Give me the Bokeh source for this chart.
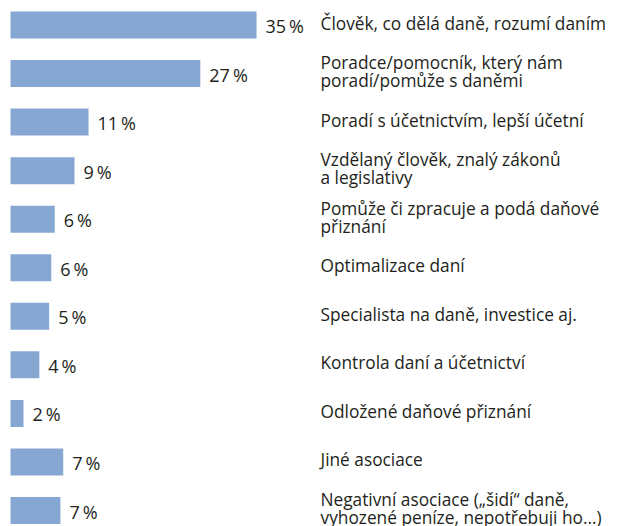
from bokeh.plotting import figure
from bokeh.models import ColumnDataSource, Range1d
from bokeh.core.properties import value
from bokeh.embed import file_html
from bokeh.resources import INLINE

categories = [
    "Člověk, co dělá daně, rozumí daním",
    "Poradce/pomocník, který nám\nporadí/pomůže s daněmi",
    "Poradí s účetnictvím, lepší účetní",
    "Vzdělaný člověk, znalý zákonů\na legislativy",
    "Pomůže či zpracuje a podá daňové\npřiznání",
    "Optimalizace daní",
    "Specialista na daně, investice aj.",
    "Kontrola daní a účetnictví",
    "Odložené daňové přiznání",
    "Jiné asociace",
    "Negativní asociace („šidí“ daně,\nvyhozené peníze, nepotřebuji ho...)",
]
values = [35.0, 27.0, 11.1, 9.1, 6.3, 5.8, 5.5, 4.1, 1.85, 7.5, 7.1]
labels = ["35\u2009%", "27\u2009%", "11\u2009%", "9\u2009%", "6\u2009%", "6\u2009%",
          "5\u2009%", "4\u2009%", "2\u2009%", "7\u2009%", "7\u2009%"]

rows = list(range(len(categories)))
src = ColumnDataSource(dict(y=rows, v=values, lab=labels, cat=categories,
                            zero=[0] * len(rows)))

W, H = 617, 526
px_per_pct = 7.03
row_px = 48.55
x0 = -10 / px_per_pct
y_top = -24.5 / row_px

p = figure(width=W, height=H, output_backend="svg", toolbar_location=None,
           x_range=Range1d(x0, x0 + W / px_per_pct),
           y_range=Range1d(y_top + H / row_px, y_top),
           min_border=0, outline_line_color=None)
p.axis.visible = False
p.grid.visible = False
p.background_fill_color = "white"
p.border_fill_color = "white"

p.hbar(y="y", left="zero", right="v", height=27 / row_px, source=src,
       fill_color="#87a7d3", line_color=None)

font = value("Open Sans")
p.text(x="v", y="y", text="lab", source=src, x_offset=9, y_offset=1,
       text_font=font, text_font_size="18px", text_color="#231f20",
       text_baseline="middle", text_align="left")

label_x = (320 - 10) / px_per_pct
p.text(x=label_x, y="y", text="cat", source=src, y_offset=-2,
       text_font=font, text_font_size="17.3px", text_color="#231f20",
       text_baseline="middle", text_align="left", text_line_height=0.77)

open("out.html", "w").write(file_html(p, INLINE))
